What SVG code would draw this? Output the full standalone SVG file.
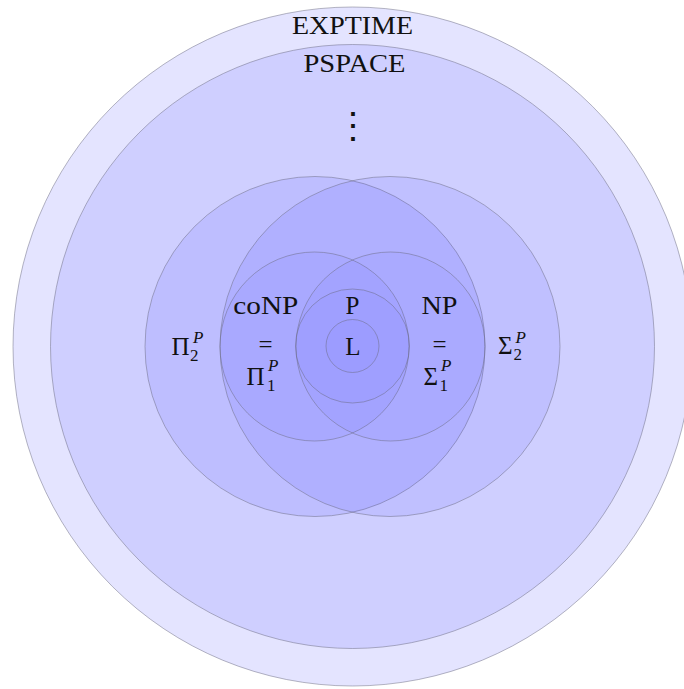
<svg xmlns="http://www.w3.org/2000/svg" width="684" height="689" viewBox="0 0 684 689">
<style>
.c{fill:#0000ff;stroke:#6a6a80;stroke-opacity:0.55;stroke-width:0.9}
text{font-family:"Liberation Serif","DejaVu Serif",serif;fill:#111;font-size:25px}
.m{text-anchor:middle}
.s{font-size:17px}
.i{font-style:italic}
</style>
<rect width="684" height="689" fill="#ffffff"/>
<g id="exptime">
<circle class="c" cx="352.5" cy="346.5" r="339.5" fill-opacity="0.105"/>
<text class="m" x="352.5" y="33.5" textLength="121" lengthAdjust="spacingAndGlyphs">EXPTIME</text>
</g>
<g id="pspace">
<circle class="c" cx="352.5" cy="346.5" r="302" fill-opacity="0.09"/>
<text class="m" x="354.5" y="71.5" textLength="102" lengthAdjust="spacingAndGlyphs">PSPACE</text>
<text class="m" x="352.5" y="137.5" style="font-size:36px;font-family:'DejaVu Serif',serif">⋮</text>
</g>
<g id="pi2">
<circle class="c" cx="315" cy="346.5" r="170" fill-opacity="0.08"/>
<text x="171.5" y="355">Π<tspan class="s i" x="193" y="343">P</tspan><tspan class="s" x="190" y="361">2</tspan></text>
</g>
<g id="sigma2">
<circle class="c" cx="390" cy="346.5" r="170" fill-opacity="0.07"/>
<text x="498" y="353.5">Σ<tspan class="s i" x="515.5" y="343">P</tspan><tspan class="s" x="513.5" y="360">2</tspan></text>
</g>
<g id="conp">
<circle class="c" cx="314.5" cy="346.5" r="94.5" fill-opacity="0.035"/>
<text class="m" x="265.8" y="314" textLength="65" lengthAdjust="spacingAndGlyphs">coNP</text>
<text class="m" x="265.5" y="352.5">=</text>
<text x="246.5" y="385">Π<tspan class="s i" x="268" y="371">P</tspan><tspan class="s" x="267" y="391">1</tspan></text>
</g>
<g id="np">
<circle class="c" cx="390.5" cy="346.5" r="94.5" fill-opacity="0.03"/>
<text class="m" x="439.5" y="314" textLength="36" lengthAdjust="spacingAndGlyphs">NP</text>
<text class="m" x="439.5" y="352.5">=</text>
<text x="423.5" y="385">Σ<tspan class="s i" x="441" y="371">P</tspan><tspan class="s" x="439.5" y="391">1</tspan></text>
</g>
<g id="p">
<circle class="c" cx="352.5" cy="346" r="57" fill-opacity="0.025"/>
<text class="m" x="352.5" y="314">P</text>
</g>
<g id="l">
<circle class="c" cx="352.5" cy="346" r="26.5" fill-opacity="0.015"/>
<text class="m" x="353" y="355">L</text>
</g>
<g id="connectors"/>
</svg>
